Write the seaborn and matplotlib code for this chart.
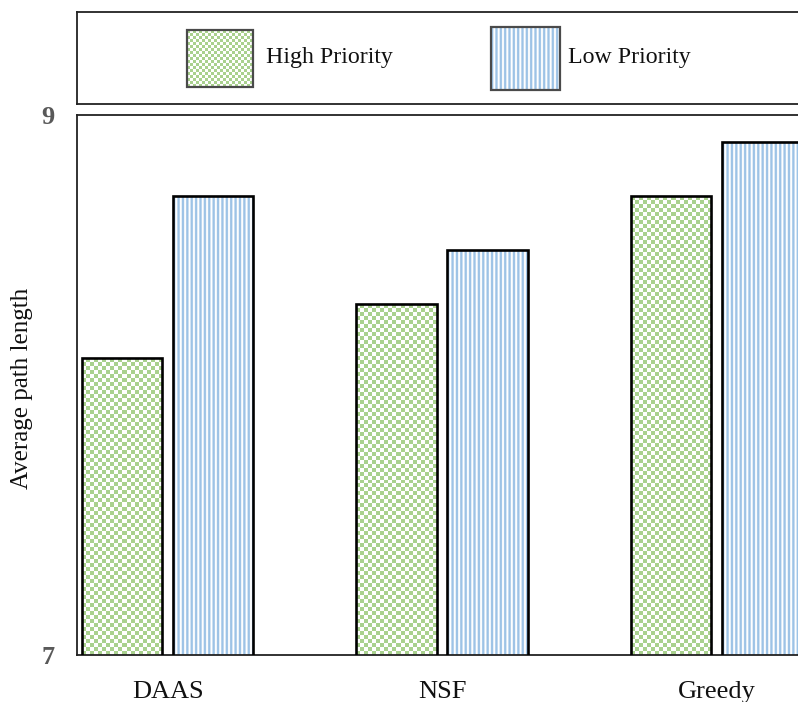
import numpy as np
import pandas as pd
import matplotlib
matplotlib.use("Agg")
import matplotlib.pyplot as plt
from matplotlib.patches import Rectangle
import seaborn as sns

methods = ["DAAS", "NSF", "Greedy"]
priorities = ["High Priority", "Low Priority"]
high_priority = [8.1, 8.3, 8.7]
low_priority = [8.7, 8.5, 8.9]
y_ticks = [7, 9]

GREEN = np.array([169, 209, 142]) / 255.0
BLUE = np.array([157, 195, 230]) / 255.0
WHITE = np.array([1.0, 1.0, 1.0])

sns.set_theme(style="white")
plt.rcParams["font.family"] = ["Liberation Serif", "DejaVu Serif"]

df = pd.DataFrame({
    "method": methods * 2,
    "priority": [priorities[0]] * 3 + [priorities[1]] * 3,
    "length": high_priority + low_priority,
})

W, H = 798, 702
AX_L, AX_R, AX_T, AX_B = 77, 807, 115, 655
fig = plt.figure(figsize=(W / 100, H / 100), dpi=100)
ax = fig.add_axes([AX_L / W, (H - AX_B) / H, (AX_R - AX_L) / W, (AX_B - AX_T) / H])
leg_ax = fig.add_axes([AX_L / W, (H - 104) / H, (AX_R - AX_L) / W, (104 - 12) / H])


def checker(w_px, h_px, cell=4):
    nx = max(1, int(round(w_px / cell)))
    ny = max(1, int(round(h_px / cell)))
    iy, ix = np.mgrid[0:ny, 0:nx]
    mask = ((ix + iy) % 2 == 0)[..., None]
    return np.where(mask, GREEN, WHITE)


def stripes(w_px, h_px, sub=3, period=13, on=7):
    nx = max(1, int(round(w_px * sub)))
    ix = np.arange(nx)
    mask = ((ix % period) < on)[None, :, None]
    return np.repeat(np.where(mask, BLUE, WHITE), 2, axis=0)


pattern_makers = [checker, stripes]
interps = ["nearest", "antialiased"]
XLIM = (-0.33, 2.33)

sns.barplot(data=df, x="method", y="length", hue="priority",
            hue_order=priorities, order=methods,
            palette=["white", "white"], edgecolor="black", linewidth=1.9,
            width=0.663, gap=0.12, saturation=1, legend=False, ax=ax, zorder=3)

ax.set_ylim(7, 9)
ax.set_xlim(*XLIM)

# Fill each bar with its texture, clipped to the bar outline
for container, make, interp in zip(ax.containers, pattern_makers, interps):
    for bar in container:
        bar.set_facecolor("none")
        x0 = bar.get_x()
        x1 = x0 + bar.get_width()
        y0 = max(bar.get_y(), 7)
        y1 = bar.get_y() + bar.get_height()
        p0 = ax.transData.transform((x0, y0))
        p1 = ax.transData.transform((x1, y1))
        img = make(abs(p1[0] - p0[0]), abs(p1[1] - p0[1]))
        im = ax.imshow(img, extent=(x0, x1, y0, y1), origin="lower",
                       interpolation=interp, aspect="auto", zorder=2)
        im.set_clip_path(bar)
ax.set_xlim(*XLIM)
ax.set_ylim(7, 9)

ax.set_yticks(y_ticks)
ax.set_yticklabels([str(t) for t in y_ticks], fontsize=19, fontweight="bold",
                   color="#595959")
ax.tick_params(axis="y", length=0, pad=16)
ax.tick_params(axis="x", length=0, pad=19, labelsize=19, labelcolor="#111111")
ax.set_xlabel("")
ax.set_ylabel("")
for s in ax.spines.values():
    s.set_color("#222222")
    s.set_linewidth(1.3)

fig.text(22 / W, 1 - 388 / H, "Average path length", rotation=90,
         ha="center", va="center", fontsize=18, color="#111111")

# Legend panel, drawn in pixel coordinates
leg_ax.set_xlim(AX_L, AX_R)
leg_ax.set_ylim(104, 12)
leg_ax.set_xticks([])
leg_ax.set_yticks([])
for s in leg_ax.spines.values():
    s.set_color("#222222")
    s.set_linewidth(1.3)

legend_boxes = [(187, 30, 66, 57), (491, 27, 69, 63)]
legend_text_x = [266, 568]
for (lx, ly, lw, lh), make, interp, label, tx in zip(
        legend_boxes, pattern_makers, interps, priorities, legend_text_x):
    img = make(lw, lh, 3) if make is checker else make(lw, lh)
    leg_ax.imshow(img, extent=(lx, lx + lw, ly + lh, ly), origin="lower",
                  interpolation=interp, aspect="auto", zorder=2)
    leg_ax.add_patch(Rectangle((lx, ly), lw, lh, facecolor="none",
                               edgecolor="#4a4a4a", linewidth=1.6, zorder=3))
    leg_ax.text(tx, 58, label, ha="left", va="center", fontsize=17.2,
                color="#111111")
leg_ax.set_xlim(AX_L, AX_R)
leg_ax.set_ylim(104, 12)

fig.savefig("out.png", dpi=100)
